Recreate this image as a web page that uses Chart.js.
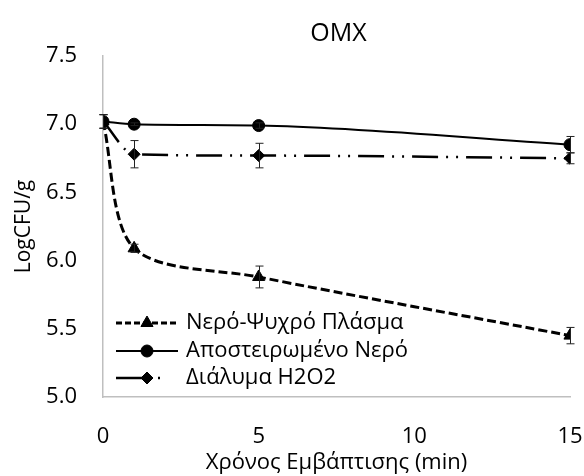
<!DOCTYPE html>
<html>
<head>
<meta charset="utf-8">
<script src="https://cdn.jsdelivr.net/npm/chart.js@4"></script>
<style>
  html, body { margin: 0; padding: 0; background: #fff; }
  #wrap { width: 584px; height: 476px; }
</style>
</head>
<body>
<div id="wrap"><canvas id="chart" width="584" height="476"></canvas></div>
<script>
// Inactivation curves, OMX — log counts vs dipping time

const times      = [0, 1, 5, 15];
const xTicks     = [0, 5, 10, 15];
const seriesNames = ['Νερό-Ψυχρό Πλάσμα', 'Αποστειρωμένο Νερό', 'Διάλυμα H2O2'];

const plasma     = [7.02, 6.09, 5.88, 5.45];
const plasmaErr  = [0.05, 0.03, 0.08, 0.06];
const sterile    = [7.02, 7.00, 6.99, 6.85];
const sterileErr = [0.05, 0.01, 0.02, 0.06];
const h2o2       = [7.02, 6.78, 6.77, 6.75];
const h2o2Err    = [0.05, 0.10, 0.09, 0.04];

const FONT = '"Open Sans", "DejaVu Sans", sans-serif';
const INK = '#000';

const toPoints = (vals) => times.map((t, i) => ({ x: t, y: vals[i] }));

// error bars, drawn through the scales
const errorBars = {
  id: 'errorBars',
  afterDatasetsDraw(chart) {
    const { ctx, scales: { x, y } } = chart;
    ctx.save();
    ctx.strokeStyle = '#222';
    ctx.lineWidth = 1;
    chart.data.datasets.forEach((ds) => {
      ds.data.forEach((p, i) => {
        const e = ds.errors[i];
        if (!e) return;
        const px = Math.round(x.getPixelForValue(p.x)) + 0.5;
        const top = y.getPixelForValue(p.y + e);
        const bot = y.getPixelForValue(p.y - e);
        ctx.beginPath();
        ctx.moveTo(px, top); ctx.lineTo(px, bot);
        ctx.moveTo(px - 4, top); ctx.lineTo(px + 4, top);
        ctx.moveTo(px - 4, bot); ctx.lineTo(px + 4, bot);
        ctx.stroke();
      });
    });
    ctx.restore();
  }
};

// title over the plot area + legend inside it (bottom-left)
const decor = {
  id: 'decor',
  afterDraw(chart) {
    const { ctx, chartArea: a } = chart;
    ctx.save();
    ctx.fillStyle = INK;
    ctx.font = '25px ' + FONT;
    ctx.textAlign = 'center';
    ctx.textBaseline = 'middle';
    ctx.fillText('OMX', (a.left + a.right) / 2 + 2, 34);

    const rows = [323, 351, 378];
    chart.data.datasets.forEach((ds, i) => {
      const yy = rows[i];
      ctx.save();
      ctx.strokeStyle = INK;
      ctx.lineWidth = ds.borderWidth;
      ctx.setLineDash(ds.legendDash);
      ctx.beginPath();
      ctx.moveTo(116, yy); ctx.lineTo(178, yy);
      ctx.stroke();
      ctx.restore();
      Chart.helpers.drawPoint(ctx, {
        pointStyle: ds.pointStyle, radius: ds.pointRadius, rotation: 0, borderWidth: 1
      }, 147, yy);
      ctx.fillStyle = INK;
      ctx.font = '22px ' + FONT;
      ctx.textAlign = 'left';
      ctx.fillText(seriesNames[i], 186, yy);
    });
    ctx.restore();
  }
};

new Chart(document.getElementById('chart'), {
  type: 'line',
  data: {
    datasets: [
      {
        label: seriesNames[0], data: toPoints(plasma), errors: plasmaErr,
        borderColor: INK, backgroundColor: INK, borderWidth: 3,
        borderDash: [9, 4], legendDash: [6, 3],
        pointStyle: 'triangle', pointRadius: 7, pointBorderWidth: 1,
        tension: 0.3
      },
      {
        label: seriesNames[1], data: toPoints(sterile), errors: sterileErr,
        borderColor: INK, backgroundColor: INK, borderWidth: 2,
        borderDash: [], legendDash: [],
        pointStyle: 'circle', pointRadius: 6, pointBorderWidth: 1,
        cubicInterpolationMode: 'monotone'
      },
      {
        label: seriesNames[2], data: toPoints(h2o2), errors: h2o2Err,
        borderColor: INK, backgroundColor: INK, borderWidth: 2.5,
        borderDash: [26, 8, 2, 8, 2, 8], legendDash: [34, 8, 2, 20],
        pointStyle: 'rectRot', pointRadius: 6, pointBorderWidth: 1,
        cubicInterpolationMode: 'monotone'
      }
    ]
  },
  options: {
    responsive: false,
    animation: false,
    layout: { padding: { top: 56, right: 14, left: 0, bottom: 0 } },
    plugins: {
      legend: { display: false },
      tooltip: { enabled: false }
    },
    scales: {
      x: {
        type: 'linear', min: 0, max: 15,
        afterFit: (s) => { s.height = 79; s.paddingLeft = 0; s.paddingRight = 0; },
        afterBuildTicks: (s) => { s.ticks = xTicks.map(v => ({ value: v })); },
        ticks: { color: INK, font: { family: FONT, size: 22 }, padding: 27 },
        grid: { display: false, drawTicks: false },
        border: { color: '#bfbfbf', width: 1.5 },
        title: {
          display: true, text: 'Χρόνος Εμβάπτισης (min)', color: INK,
          font: { family: FONT, size: 22 }, padding: { top: -1, bottom: 0 }
        }
      },
      y: {
        min: 5, max: 7.5,
        afterFit: (s) => { s.width = 103; s.paddingTop = 0; s.paddingBottom = 0; },
        ticks: {
          stepSize: 0.5, color: INK, font: { family: FONT, size: 22 }, padding: 26,
          callback: (v) => v.toFixed(1)
        },
        grid: { display: false, drawTicks: false },
        border: { color: '#bfbfbf', width: 1.5 },
        title: {
          display: true, text: 'LogCFU/g', color: INK,
          font: { family: FONT, size: 21 }, padding: { top: 11, bottom: 0 }
        }
      }
    }
  },
  plugins: [errorBars, decor]
});
</script>
</body>
</html>
